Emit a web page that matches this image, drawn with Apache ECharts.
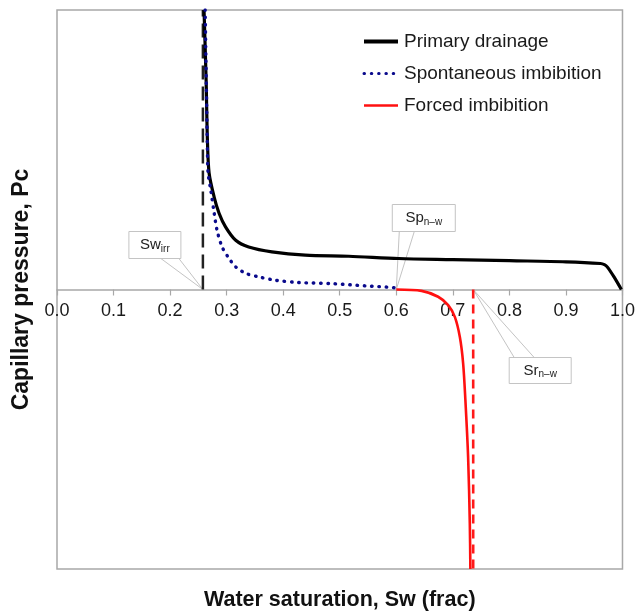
<!DOCTYPE html>
<html>
<head>
<meta charset="utf-8">
<script src="https://cdn.jsdelivr.net/npm/echarts@6/dist/echarts.min.js"></script>
<style>html,body{margin:0;padding:0;background:#fff}#c{width:638px;height:614px}</style>
</head>
<body>
<div id="c"></div>
<script>
// ---- data ----
const xTicks = [0, 0.1, 0.2, 0.3, 0.4, 0.5, 0.6, 0.7, 0.8, 0.9, 1.0];

const swPrimary = [0.260, 0.2637, 0.266, 0.269, 0.278, 0.2866, 0.298, 0.316, 0.339, 0.380, 0.439, 0.516, 0.604, 0.700, 0.800, 0.900, 0.961, 0.968, 0.973, 0.985, 0.998];
const pcPrimary = [10.0, 7.49, 5.34, 4.16, 3.30, 2.73, 2.24, 1.76, 1.52, 1.345, 1.227, 1.19, 1.11, 1.07, 1.03, 0.99, 0.93, 0.89, 0.81, 0.45, 0.0];

const swSpont = [0.262, 0.266, 0.2672, 0.272, 0.278, 0.283, 0.292, 0.304, 0.316, 0.3336, 0.357, 0.3865, 0.4275, 0.4857, 0.545, 0.598, 0.600];
const pcSpont = [10.0, 4.98, 4.16, 3.55, 2.73, 2.12, 1.52, 1.12, 0.81, 0.58, 0.45, 0.33, 0.25, 0.21, 0.13, 0.06, 0.0];

const swForced = [0.600, 0.6447, 0.674, 0.6917, 0.7035, 0.7124, 0.7182, 0.7222, 0.727, 0.730, 0.731];
const pcForced = [0.0, -0.05, -0.26, -0.56, -0.98, -1.70, -2.64, -3.96, -5.99, -8.36, -10.0];

const swIrr = 0.258;     // irreducible water saturation
const swSp = 0.600;      // spontaneous imbibition end point
const swSr = 0.736;      // residual non-wetting saturation
const pcMin = -10, pcMax = 10;

const seriesNames = ['Primary drainage', 'Spontaneous imbibition', 'Forced imbibition'];
const xTitle = 'Water saturation, Sw (frac)';
const yTitle = 'Capillary pressure, Pc';

// ---- build ----
const zip = (a, b) => a.map((v, i) => [v, b[i]]);
const FONT = '"Liberation Sans", Arial, sans-serif';
const W = 638, H = 614;
const GRID = {left: 57, right: 13, top: 10, bottom: 45};
const gridH = H - GRID.top - GRID.bottom;

const chart = echarts.init(document.getElementById('c'), null, {renderer: 'canvas'});

const option = {
  animation: false,
  backgroundColor: '#fff',
  grid: Object.assign({show: true, borderColor: '#a8a8a8', borderWidth: 1.5, backgroundColor: 'transparent'}, GRID),
  legend: {
    data: [
      {name: seriesNames[0], lineStyle: {width: 4}},
      {name: seriesNames[1], lineStyle: {width: 3}},
      {name: seriesNames[2], lineStyle: {width: 2.5}}
    ],
    orient: 'vertical',
    left: 357, top: 27,
    itemWidth: 34, itemHeight: 12, itemGap: 13,
    itemStyle: {opacity: 0},
    textStyle: {fontSize: 19, color: '#1a1a1a', fontFamily: FONT, padding: [0, 0, 0, 1]}
  },
  xAxis: {
    type: 'value', min: 0, max: 1, interval: 0.1,
    position: 'bottom', offset: -gridH * (0 - pcMin) / (pcMax - pcMin),
    axisLine: {onZero: false, lineStyle: {color: '#a8a8a8', width: 1.5}},
    axisTick: {show: true, length: 6, inside: false, lineStyle: {color: '#a8a8a8', width: 1.2}},
    axisLabel: {fontSize: 18, color: '#1a1a1a', fontFamily: FONT, margin: 13,
      formatter: v => (Math.round(v * 10) / 10).toFixed(1)},
    splitLine: {show: false}
  },
  yAxis: {
    type: 'value', min: pcMin, max: pcMax,
    axisLine: {show: false}, axisTick: {show: false}, axisLabel: {show: false}, splitLine: {show: false},
    name: yTitle, nameLocation: 'middle', nameGap: 24,
    nameTextStyle: {fontSize: 23, fontWeight: 'bold', color: '#111', fontFamily: FONT}
  },
  series: [
    {
      name: 'Swirr line', type: 'line', symbol: 'none', silent: true,
      data: [[swIrr, 0], [swIrr, pcMax]],
      lineStyle: {color: '#222', width: 2.5, type: [14, 7]}
    },
    {
      name: seriesNames[0], type: 'line', symbol: 'none', smooth: 0.3,
      data: zip(swPrimary, pcPrimary),
      lineStyle: {color: '#000', width: 3.2},
      itemStyle: {color: '#000'}
    },
    {
      name: seriesNames[1], type: 'line', symbol: 'none', smooth: 0.3,
      data: zip(swSpont, pcSpont),
      lineStyle: {color: '#0a0a8c', width: 3.4, type: [0.5, 6.8], cap: 'round'},
      itemStyle: {color: '#0a0a8c'}
    },
    {
      name: seriesNames[2], type: 'line', symbol: 'none', smooth: 0.3,
      data: zip(swForced, pcForced),
      lineStyle: {color: '#ff1010', width: 2.6},
      itemStyle: {color: '#ff1010'}
    },
    {
      name: 'Srnw line', type: 'line', symbol: 'none', silent: true,
      data: [[swSr, 0], [swSr, pcMin]],
      lineStyle: {color: '#ff1a1a', width: 2.6, type: [9, 6]}
    }
  ]
};
chart.setOption(option);

// ---- callouts and x title ----
function callout(target, box, base, main, sub) {
  const p = chart.convertToPixel({xAxisIndex: 0, yAxisIndex: 0}, target);
  const [bx, by, bw, bh] = box.map((v, i) => v + (i === 0 ? p[0] : i === 1 ? p[1] : 0));
  return [
    {type: 'polyline', z: 1, shape: {points: [[bx + base[0], by + base[2]], [p[0], p[1]], [bx + base[1], by + base[2]]]},
      style: {stroke: '#c4c4c4', lineWidth: 1, fill: null}},
    {type: 'rect', z: 2, shape: {x: bx, y: by, width: bw, height: bh},
      style: {fill: '#fff', stroke: '#c4c4c4', lineWidth: 1}},
    {type: 'text', z: 3, x: bx + bw / 2, y: by + bh / 2,
      style: {text: '{m|' + main + '}{s|' + sub + '}', align: 'center', verticalAlign: 'middle',
        rich: {m: {fontSize: 15, fontFamily: FONT, fill: '#222', color: '#222'},
               s: {fontSize: 10, fontFamily: FONT, fill: '#222', color: '#222', padding: [8, 0, 0, 0]}}}}
  ];
}
const left = chart.convertToPixel({xAxisIndex: 0, yAxisIndex: 0}, [0, pcMin]);
const right = chart.convertToPixel({xAxisIndex: 0, yAxisIndex: 0}, [1, pcMin]);
const g = [].concat(
  callout([swIrr, 0], [-74, -58, 52, 27], [32, 50, 27], 'Sw', 'irr'),
  callout([swSp, 0], [-4, -85, 63, 27], [7, 22, 27], 'Sp', 'n\u2013w'),
  callout([swSr, 0], [36, 68, 62, 26], [5, 25, 0], 'Sr', 'n\u2013w'),
  [{type: 'text', x: (left[0] + right[0]) / 2, y: left[1] + 31,
    style: {text: xTitle, align: 'center', verticalAlign: 'middle', fontSize: 21.5, fontWeight: 'bold', fill: '#111', fontFamily: FONT}}]
);
chart.setOption({graphic: g});
</script>
</body>
</html>
